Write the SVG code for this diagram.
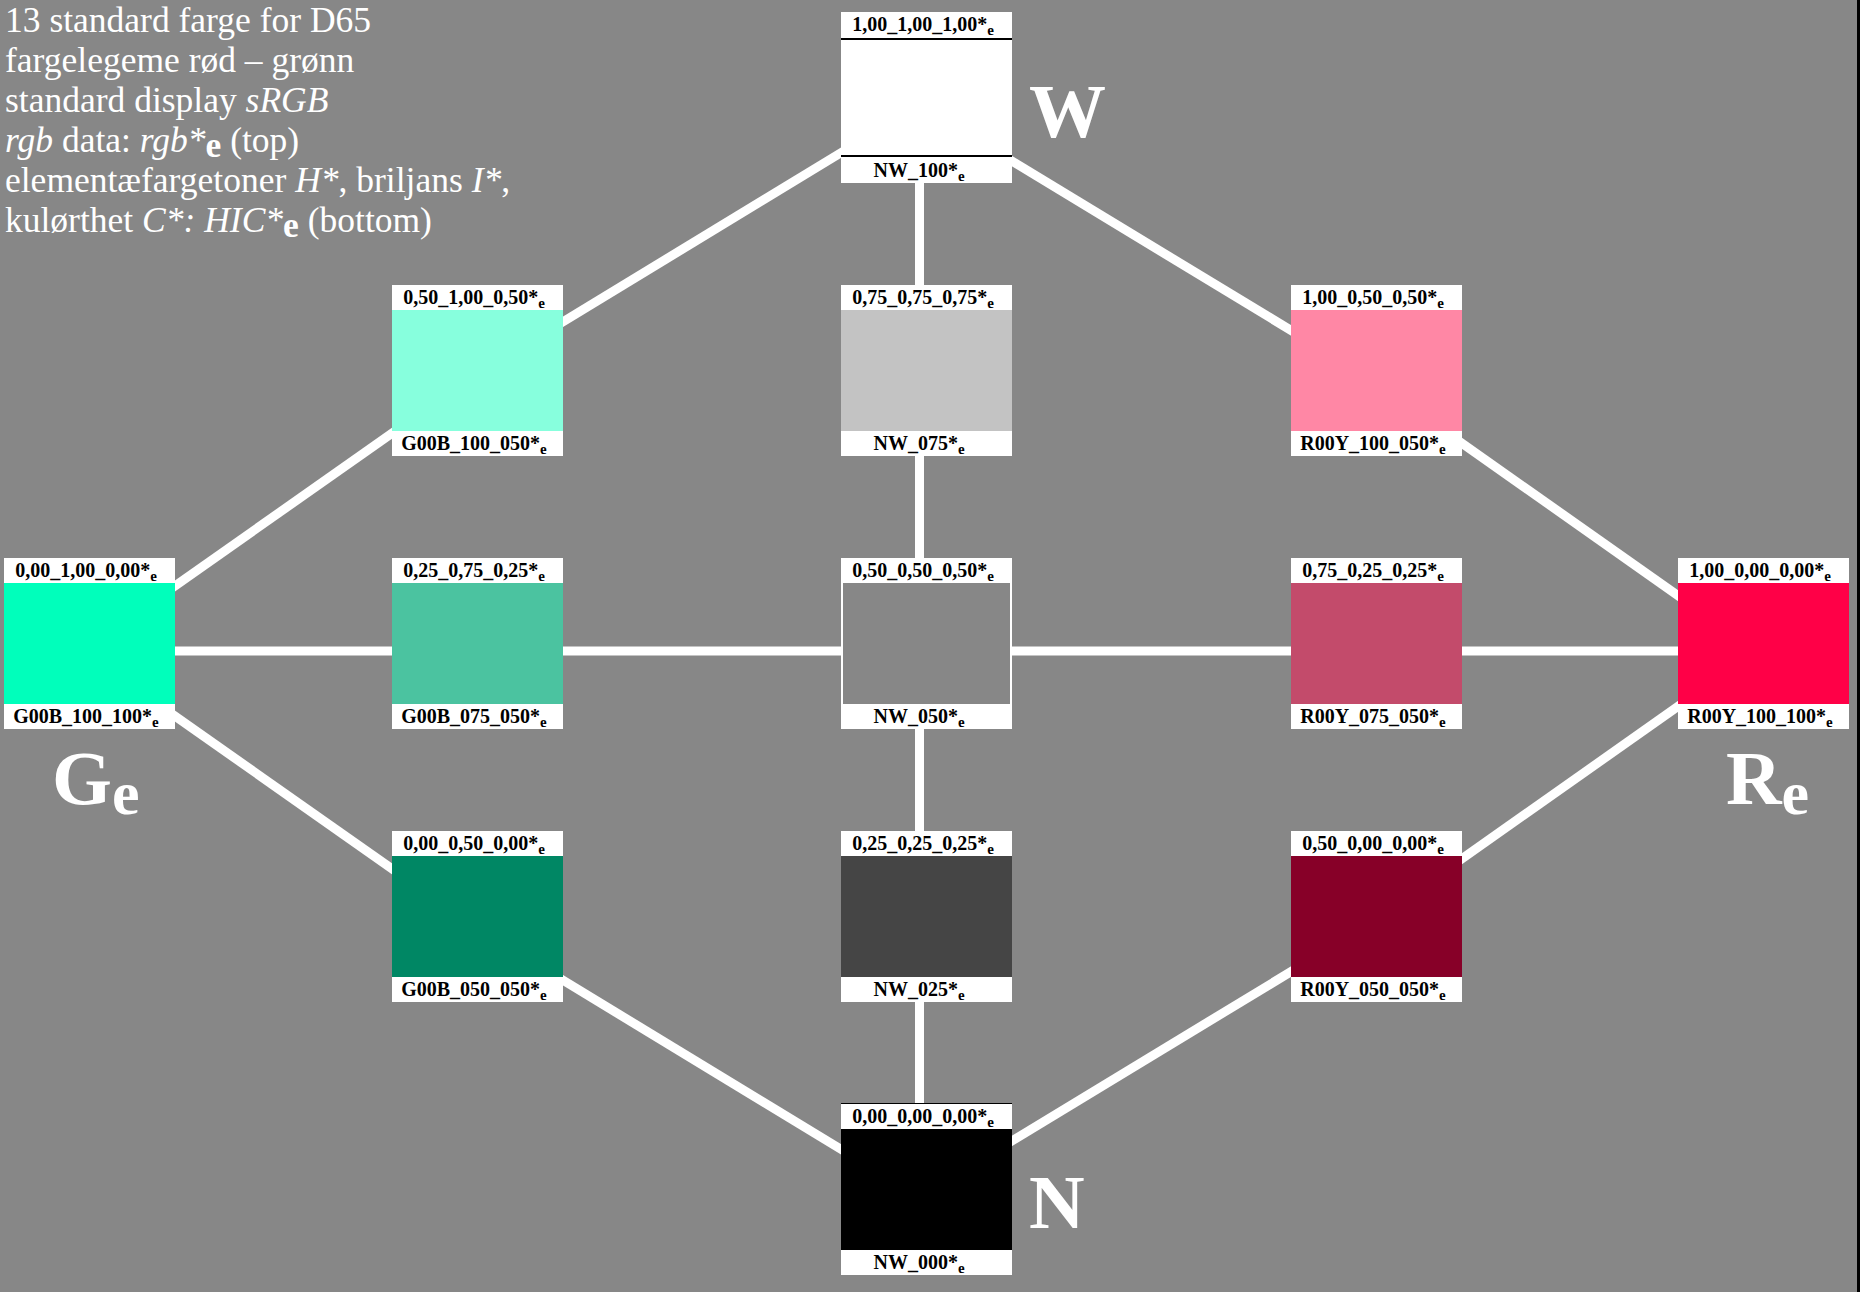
<svg xmlns="http://www.w3.org/2000/svg" width="1868" height="1292" viewBox="0 0 1868 1292">
<style>
.lbl{font-family:"Liberation Serif","Times New Roman",serif;font-weight:bold;font-size:20px;fill:#000;text-anchor:middle}
.sub{font-size:15px}
.big{font-family:"Liberation Serif","Times New Roman",serif;font-weight:bold;font-size:77px;fill:#fff}
.title{font-family:"Liberation Serif","Times New Roman",serif;font-size:35.5px;fill:#fff}
.frame{fill:#fff}
.conn line{stroke:#fff;stroke-width:9}
</style>
<rect x="0" y="0" width="1868" height="1292" fill="#fff"/>
<rect x="0" y="0" width="1857" height="1292" fill="#878787"/>
<rect x="1857" y="0" width="3" height="1292" fill="#000"/>

<g id="connectors" class="conn">
<line x1="919.5" y1="105" x2="470.5" y2="378"/>
<line x1="919.5" y1="105" x2="919.5" y2="378"/>
<line x1="919.5" y1="105" x2="1369.5" y2="378"/>
<line x1="470.5" y1="378" x2="82.5" y2="651"/>
<line x1="1369.5" y1="378" x2="1756.5" y2="651"/>
<line x1="919.5" y1="378" x2="919.5" y2="651"/>
<line x1="82.5" y1="651" x2="1756.5" y2="651"/>
<line x1="82.5" y1="651" x2="470.5" y2="924"/>
<line x1="1756.5" y1="651" x2="1369.5" y2="924"/>
<line x1="919.5" y1="651" x2="919.5" y2="924"/>
<line x1="470.5" y1="924" x2="919.5" y2="1197"/>
<line x1="1369.5" y1="924" x2="919.5" y2="1197"/>
<line x1="919.5" y1="924" x2="919.5" y2="1197"/>
</g>

<g id="title">
<text class="title" x="5" y="32">13 standard farge for D65</text>
<text class="title" x="5" y="72">fargelegeme rød – grønn</text>
<text class="title" x="5" y="112">standard display <tspan font-style="italic">sRGB</tspan></text>
<text class="title" x="5" y="152"><tspan font-style="italic">rgb</tspan> data: <tspan font-style="italic">rgb*</tspan><tspan font-weight="bold" dy="5">e</tspan><tspan dy="-5"> (top)</tspan></text>
<text class="title" x="5" y="192">elementæfargetoner <tspan font-style="italic">H*</tspan>, briljans <tspan font-style="italic">I*</tspan>,</text>
<text class="title" x="5" y="232">kulørthet <tspan font-style="italic">C*: HIC*</tspan><tspan font-weight="bold" dy="5">e</tspan><tspan dy="-5"> (bottom)</tspan></text>
</g>

<g id="node-W">
<rect class="frame" x="841" y="12" width="171" height="171"/>
<rect x="841" y="38" width="171" height="2" fill="#000"/>
<rect x="841" y="155" width="171" height="2" fill="#000"/>
<text class="lbl" x="923" y="31">1,00_1,00_1,00*<tspan class="sub" dy="4">e</tspan></text>
<text class="lbl" x="919" y="177">NW_100*<tspan class="sub" dy="4">e</tspan></text>
</g>
<g id="node-G00B_100_050">
<rect class="frame" x="392" y="285" width="171" height="171"/>
<rect x="392" y="310" width="171" height="121" fill="#87ffdd"/>
<text class="lbl" x="474" y="304">0,50_1,00_0,50*<tspan class="sub" dy="4">e</tspan></text>
<text class="lbl" x="474" y="450">G00B_100_050*<tspan class="sub" dy="4">e</tspan></text>
</g>
<g id="node-NW_075">
<rect class="frame" x="841" y="285" width="171" height="171"/>
<rect x="841" y="310" width="171" height="121" fill="#c3c3c3"/>
<text class="lbl" x="923" y="304">0,75_0,75_0,75*<tspan class="sub" dy="4">e</tspan></text>
<text class="lbl" x="919" y="450">NW_075*<tspan class="sub" dy="4">e</tspan></text>
</g>
<g id="node-R00Y_100_050">
<rect class="frame" x="1291" y="285" width="171" height="171"/>
<rect x="1291" y="310" width="171" height="121" fill="#ff87a5"/>
<text class="lbl" x="1373" y="304">1,00_0,50_0,50*<tspan class="sub" dy="4">e</tspan></text>
<text class="lbl" x="1373" y="450">R00Y_100_050*<tspan class="sub" dy="4">e</tspan></text>
</g>
<g id="node-G00B_100_100">
<rect class="frame" x="4" y="558" width="171" height="171"/>
<rect x="4" y="583" width="171" height="121" fill="#00ffbb"/>
<text class="lbl" x="86" y="577">0,00_1,00_0,00*<tspan class="sub" dy="4">e</tspan></text>
<text class="lbl" x="86" y="723">G00B_100_100*<tspan class="sub" dy="4">e</tspan></text>
</g>
<g id="node-G00B_075_050">
<rect class="frame" x="392" y="558" width="171" height="171"/>
<rect x="392" y="583" width="171" height="121" fill="#4bc3a0"/>
<text class="lbl" x="474" y="577">0,25_0,75_0,25*<tspan class="sub" dy="4">e</tspan></text>
<text class="lbl" x="474" y="723">G00B_075_050*<tspan class="sub" dy="4">e</tspan></text>
</g>
<g id="node-NW_050">
<rect class="frame" x="841" y="558" width="171" height="171"/>
<rect x="843" y="583" width="167" height="121" fill="#878787"/>
<text class="lbl" x="923" y="577">0,50_0,50_0,50*<tspan class="sub" dy="4">e</tspan></text>
<text class="lbl" x="919" y="723">NW_050*<tspan class="sub" dy="4">e</tspan></text>
</g>
<g id="node-R00Y_075_050">
<rect class="frame" x="1291" y="558" width="171" height="171"/>
<rect x="1291" y="583" width="171" height="121" fill="#c34b6b"/>
<text class="lbl" x="1373" y="577">0,75_0,25_0,25*<tspan class="sub" dy="4">e</tspan></text>
<text class="lbl" x="1373" y="723">R00Y_075_050*<tspan class="sub" dy="4">e</tspan></text>
</g>
<g id="node-R00Y_100_100">
<rect class="frame" x="1678" y="558" width="171" height="171"/>
<rect x="1678" y="583" width="171" height="121" fill="#ff0047"/>
<text class="lbl" x="1760" y="577">1,00_0,00_0,00*<tspan class="sub" dy="4">e</tspan></text>
<text class="lbl" x="1760" y="723">R00Y_100_100*<tspan class="sub" dy="4">e</tspan></text>
</g>
<g id="node-G00B_050_050">
<rect class="frame" x="392" y="831" width="171" height="171"/>
<rect x="392" y="856" width="171" height="121" fill="#008764"/>
<text class="lbl" x="474" y="850">0,00_0,50_0,00*<tspan class="sub" dy="4">e</tspan></text>
<text class="lbl" x="474" y="996">G00B_050_050*<tspan class="sub" dy="4">e</tspan></text>
</g>
<g id="node-NW_025">
<rect class="frame" x="841" y="831" width="171" height="171"/>
<rect x="841" y="856" width="171" height="121" fill="#454545"/>
<text class="lbl" x="923" y="850">0,25_0,25_0,25*<tspan class="sub" dy="4">e</tspan></text>
<text class="lbl" x="919" y="996">NW_025*<tspan class="sub" dy="4">e</tspan></text>
</g>
<g id="node-R00Y_050_050">
<rect class="frame" x="1291" y="831" width="171" height="171"/>
<rect x="1291" y="856" width="171" height="121" fill="#870028"/>
<text class="lbl" x="1373" y="850">0,50_0,00_0,00*<tspan class="sub" dy="4">e</tspan></text>
<text class="lbl" x="1373" y="996">R00Y_050_050*<tspan class="sub" dy="4">e</tspan></text>
</g>
<g id="node-N">
<rect class="frame" x="841" y="1104" width="171" height="171"/>
<rect x="841" y="1103" width="171" height="1" fill="#000"/>
<rect x="841" y="1129" width="171" height="121" fill="#000"/>
<text class="lbl" x="923" y="1123">0,00_0,00_0,00*<tspan class="sub" dy="4">e</tspan></text>
<text class="lbl" x="919" y="1269">NW_000*<tspan class="sub" dy="4">e</tspan></text>
</g>

<g id="corner-labels">
<text class="big" x="1029" y="137">W</text>
<text class="big" x="1029" y="1228">N</text>
<text class="big" x="52" y="804">G<tspan font-size="62" dy="10">e</tspan></text>
<text class="big" x="1726" y="804">R<tspan font-size="62" dy="10">e</tspan></text>
</g>
</svg>
